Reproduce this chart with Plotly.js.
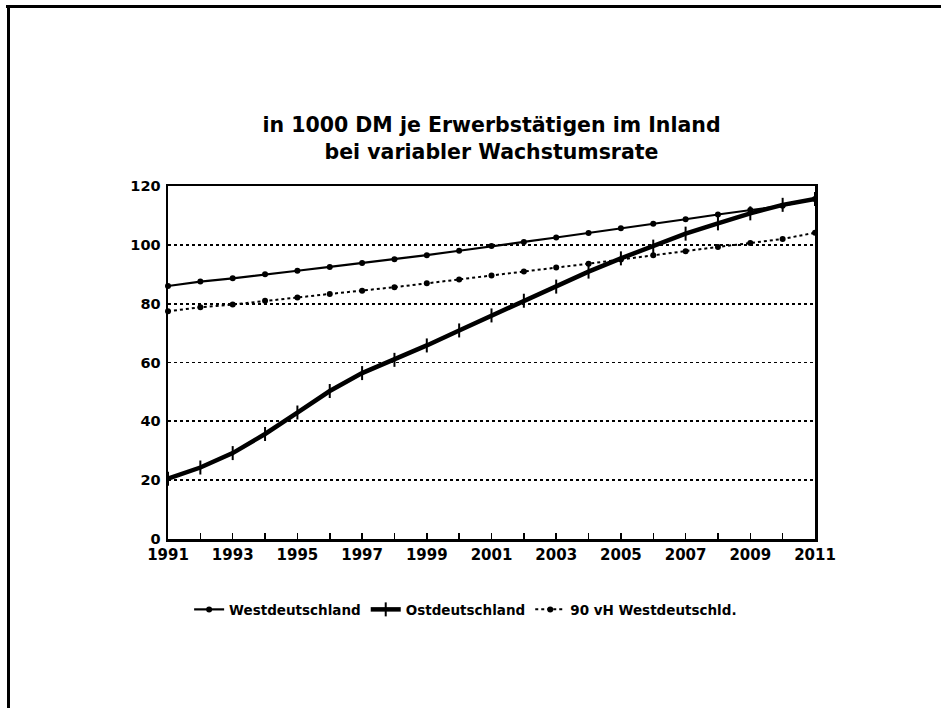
<!DOCTYPE html>
<html>
<head>
<meta charset="utf-8">
<script src="https://cdn.plot.ly/plotly-3.0.1.min.js"></script>
<style>
  html, body { margin: 0; padding: 0; background: #fff; }
  #wrap { position: relative; width: 941px; height: 708px; overflow: hidden; }
  #chart { width: 941px; height: 708px; }
  .fr { position: absolute; background: #000; }
</style>
</head>
<body>
<div id="wrap">
  <div id="chart"></div>
  <div class="fr" style="left:6px; top:5px; width:935px; height:3px;"></div>
  <div class="fr" style="left:7px; top:5px; width:3px; height:703px;"></div>
</div>
<script>
const years = [1991,1992,1993,1994,1995,1996,1997,1998,1999,2000,2001,2002,2003,2004,2005,2006,2007,2008,2009,2010,2011];
const tickLabels = ['1991','','1993','','1995','','1997','','1999','','2001','','2003','','2005','','2007','','2009','','2011'];
const westdeutschland = [86,87.5,88.6,90,91.2,92.5,93.8,95.1,96.5,98,99.6,101,102.5,104,105.6,107.2,108.7,110.3,111.8,113.3,115.6];
const ostdeutschland = [20.5,24.3,29.2,35.7,43,50.3,56.4,60.9,65.8,70.9,76,81,85.8,90.9,95.4,99.4,103.8,107.3,110.7,113.6,115.6];
const west90 = [77.4,78.8,79.7,81,82.1,83.3,84.4,85.6,86.9,88.2,89.6,90.9,92.3,93.6,95,96.5,97.8,99.3,100.6,102,104.1];
const seriesNames = ['Westdeutschland','Ostdeutschland','90 vH Westdeutschld.'];

const traces = [
  {x: years, y: westdeutschland, name: seriesNames[0], type: 'scatter', mode: 'lines+markers',
   line: {color: '#000', width: 2.2}, marker: {symbol: 'circle', size: 6, color: '#000'}, cliponaxis: false},
  {x: years, y: ostdeutschland, name: seriesNames[1], type: 'scatter', mode: 'lines+markers',
   line: {color: '#000', width: 4.5}, marker: {symbol: 'line-ns', size: 10, line: {color: '#000', width: 2}}, cliponaxis: false},
  {x: years, y: west90, name: seriesNames[2], type: 'scatter', mode: 'lines+markers',
   line: {color: '#000', width: 2, dash: 'dot'}, marker: {symbol: 'circle', size: 6, color: '#000'}, cliponaxis: false}
];

const fontFam = '"DejaVu Sans", Verdana, sans-serif';
const layout = {
  width: 941, height: 708,
  margin: {l: 168, r: 126, t: 186, b: 169},
  paper_bgcolor: '#fff', plot_bgcolor: '#fff',
  showlegend: true,
  title: {
    text: 'in 1000 DM je Erwerbstätigen im Inland<br>bei variabler Wachstumsrate',
    font: {family: fontFam, size: 20.5, color: '#000', weight: 'bold'},
    x: 0.5, xref: 'paper', xanchor: 'center',
    y: 0.813, yref: 'container', yanchor: 'middle'
  },
  xaxis: {
    range: [1991, 2011], tickmode: 'array', tickvals: years, ticktext: tickLabels,
    ticks: 'inside', ticklen: 6, tickwidth: 1.5, tickcolor: '#000',
    showgrid: false, zeroline: false,
    showline: true, linecolor: '#000', linewidth: 2.5, mirror: true,
    tickfont: {family: fontFam, size: 15, color: '#000', weight: 'bold'},
    ticklabelstandoff: 0
  },
  yaxis: {
    range: [0, 120], dtick: 20, tick0: 0,
    ticks: '', showgrid: true, gridcolor: '#000', gridwidth: 1.8, griddash: 'dot',
    zeroline: false, showline: true, linecolor: '#000', linewidth: 2.5, mirror: true,
    tickfont: {family: fontFam, size: 14.5, color: '#000', weight: 'bold'},
    ticklabelstandoff: 2
  },
  legend: {
    orientation: 'h', x: 0.46, xanchor: 'center', y: -0.2, yanchor: 'middle',
    font: {family: fontFam, size: 13.5, color: '#000', weight: 'bold'},
    itemwidth: 30, tracegroupgap: 0
  }
};

Plotly.newPlot('chart', traces, layout, {displayModeBar: false, staticPlot: true});
</script>
</body>
</html>
